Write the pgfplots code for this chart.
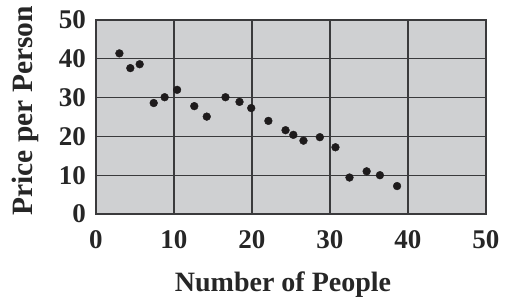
\documentclass[border=0pt]{standalone}
\usepackage{pgfplots}
\pgfplotsset{compat=1.18}
\usepackage{fontspec}
\setmainfont{Liberation Serif}
\definecolor{plotbg}{HTML}{CFD0D2}
\definecolor{gridc}{HTML}{3A3A3C}
\definecolor{dotc}{HTML}{1E1B1C}
\begin{document}
\begin{tikzpicture}
\begin{axis}[
  scale only axis,
  width=390bp, height=194bp,
  xmin=0, xmax=50, ymin=0, ymax=50,
  xtick={0,10,20,30,40,50}, ytick={0,10,20,30,40,50},
  grid=major,
  major grid style={gridc, line width=1.1bp},
  axis line style={gridc, line width=1.1bp},
  axis background/.style={fill=plotbg},
  tick style={draw=none},
  /pgf/number format/assume math mode=true,
  ticklabel style={font=\fontsize{27bp}{29bp}\selectfont\bfseries, text=black!85},
  xticklabel style={anchor=base, yshift=-34bp},
  yticklabel style={anchor=east, inner sep=0pt, xshift=-10bp},
  xlabel={Number of People},
  ylabel={Price per Person},
  xlabel style={font=\fontsize{28bp}{30bp}\selectfont\bfseries, text=black!85,
    at={(axis description cs:0.4795,-0.402)}, anchor=base},
  ylabel style={font=\fontsize{29.5bp}{31bp}\selectfont\bfseries, text=black!85,
    at={(axis description cs:-0.1623,0.531)}, anchor=base},
]
\coordinate (O) at (rel axis cs:0,0);
\addplot[only marks, mark=*, mark size=3.9bp, mark options={fill=dotc, draw=dotc}] coordinates {
(3.0,41.4) (4.4,37.6) (5.6,38.6) (7.4,28.6) (8.8,30.1) (10.4,32.0)
(12.6,27.8) (14.2,25.1) (16.6,30.1) (18.4,28.9) (19.9,27.3)
(22.1,24.0) (24.3,21.6) (25.3,20.4) (26.6,18.9) (28.7,19.8)
(30.7,17.2) (32.5,9.4) (34.7,11.0) (36.4,10.0) (38.6,7.2)
};
\end{axis}
\pgfresetboundingbox
\path ([xshift=-96bp,yshift=-84bp]O) rectangle ++(509bp,298bp);
\end{tikzpicture}
\end{document}
